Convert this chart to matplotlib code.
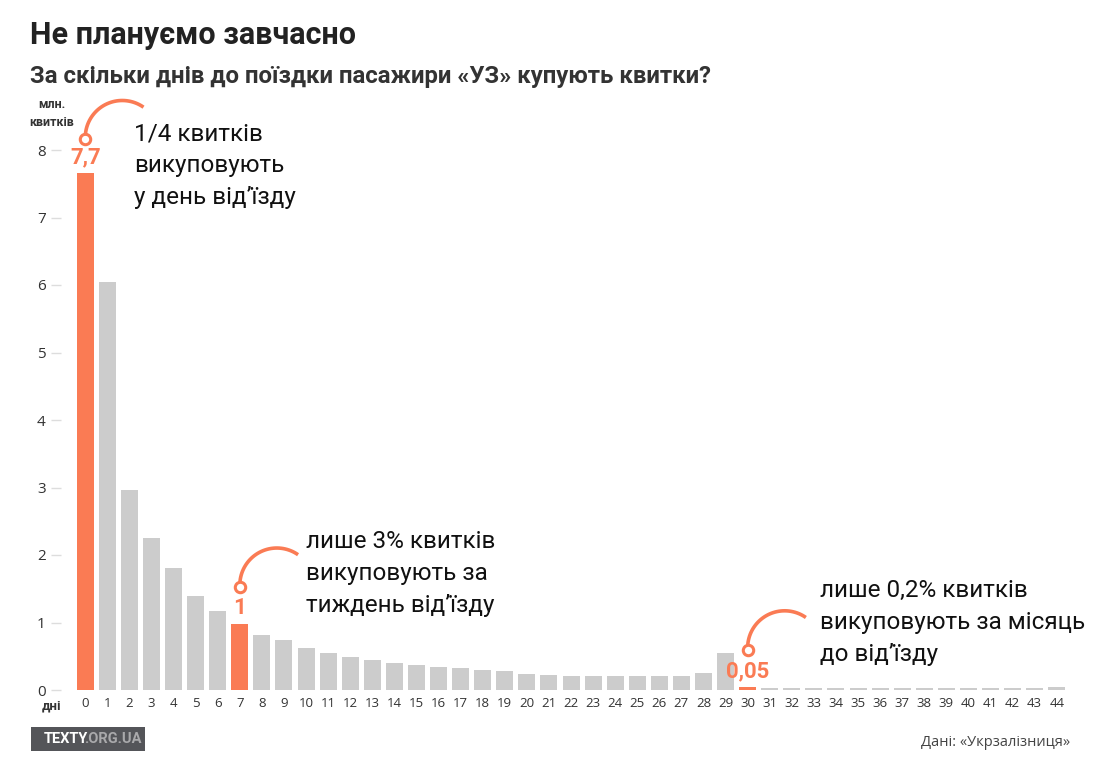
import numpy as np
import matplotlib.pyplot as plt
from matplotlib.lines import Line2D
from matplotlib.patches import Rectangle
from matplotlib.transforms import IdentityTransform

plt.rcParams['font.family'] = ['Roboto', 'DejaVu Sans']

days = list(range(45))
tickets = [7.66, 6.04, 2.96, 2.25, 1.81, 1.39, 1.17, 0.98, 0.82, 0.74,
           0.62, 0.55, 0.49, 0.44, 0.40, 0.37, 0.34, 0.33, 0.30, 0.28,
           0.24, 0.22, 0.21, 0.21, 0.21, 0.21, 0.21, 0.21, 0.25, 0.55,
           0.05, 0.03, 0.03, 0.03, 0.03, 0.03, 0.03, 0.03, 0.03, 0.03,
           0.03, 0.03, 0.03, 0.03, 0.04]
highlight = [0, 7, 30]
value_labels = {0: '7,7', 7: '1', 30: '0,05'}
notes = {
    0: '1/4 квитків\nвикуповують\nу день від\u02bcїзду',
    7: 'лише 3% квитків\nвикуповують за\nтиждень від\u02bcїзду',
    30: 'лише 0,2% квитків\nвикуповують за місяць\nдо від\u02bcїзду',
}
# where each note starts, in pixels right of / above its ring
note_offsets = {0: (49, 17), 7: (66, 57), 30: (72, 71)}
y_ticks = list(range(9))

ORANGE = '#fa7b54'
GREY = '#cccccc'
DARK = '#333333'

W, H = 1100, 767
fig = plt.figure(figsize=(W / 100, H / 100), dpi=100)
# axes placed in pixel terms of the reference
left, right, bottom, top = 61, 1070, 690, 109.5
ax = fig.add_axes([left / W, (H - bottom) / H, (right - left) / W, (bottom - top) / H])

colors = [ORANGE if d in highlight else GREY for d in days]
ax.bar(days, tickets, width=0.77, color=colors)

ax.set_xlim(-1.1, 44.6)
ax.set_ylim(0, 8.6)
ax.set_yticks(y_ticks)
ax.set_yticklabels([str(t) for t in y_ticks], fontsize=11, color=DARK,
                   family=['Open Sans', 'DejaVu Sans'])
ax.set_xticks(days)
ax.set_xticklabels([str(d) for d in days], fontsize=9.5, color=DARK,
                   family=['Open Sans', 'DejaVu Sans'])
ax.tick_params(axis='y', length=7, width=1, color='#dddddd', pad=4)
ax.tick_params(axis='x', length=0, pad=5)
for s in ax.spines.values():
    s.set_visible(False)

# pointer arc: circle piece starting at the ring, in pixel offsets
arc_cx, arc_cy, arc_r = 37, 1.7, 37
ang = np.radians(np.linspace(177, 55, 40))
arc_dx = arc_cx + arc_r * np.cos(ang)
arc_dy = arc_cy + arc_r * np.sin(ang)

for d in highlight:
    v = tickets[d]
    ax.text(d, v + 0.07, value_labels[d], ha='center', va='bottom',
            color=ORANGE, fontsize=16, fontweight='bold')
    ring_y = v + 0.55 if d else v + 0.5
    px, py = ax.transData.transform((d, ring_y))
    fig.add_artist(Line2D(px + arc_dx, py + arc_dy, color=ORANGE, lw=2.6,
                          solid_capstyle='butt', transform=IdentityTransform()))
    ax.plot(d, ring_y, 'o', ms=7.5, mfc='white', mec=ORANGE, mew=2.2, zorder=5)
    ox, oy = note_offsets[d]
    ax.annotate(notes[d], xy=(d, ring_y), xycoords='data',
                xytext=(ox * 0.72, oy * 0.72), textcoords='offset points',
                ha='left', va='top', fontsize=17.5, color='#111111',
                linespacing=1.5)

fig.text(52 / W, 1 - 706 / H, 'дні', ha='center', va='center',
         fontsize=9.5, fontweight='bold', color=DARK)
fig.text(52 / W, 1 - 114 / H, 'млн.\nквитків', ha='center', va='center',
         fontsize=9, fontweight='bold', color=DARK, linespacing=1.5)

fig.text(30 / W, 1 - 35 / H, 'Не плануємо завчасно', ha='left', va='center',
         fontsize=22, fontweight='bold', color='#222222')
fig.text(30 / W, 1 - 76 / H,
         'За скільки днів до поїздки пасажири «УЗ» купують квитки?',
         ha='left', va='center', fontsize=17.3, fontweight='bold', color='#333333')

# footer
fig.add_artist(Rectangle((31 / W, 1 - 751 / H), 114 / W, 24 / H, zorder=-1,
                         transform=fig.transFigure, fc='#545559', ec='none'))
logo = fig.text(44 / W, 1 - 739 / H, 'TEXTY', ha='left', va='center',
                fontsize=10.5, fontweight='bold', color='white')
fig.text(84 / W, 1 - 739 / H, '.ORG.UA', ha='left', va='center',
         fontsize=10.5, fontweight='bold', color='#a9a9ab')
fig.text(1070 / W, 1 - 742 / H, 'Дані: «Укрзалізниця»', ha='right', va='center',
         fontsize=10.5, color='#444444', family=['Open Sans', 'DejaVu Sans'])

fig.savefig('out.png', dpi=100, facecolor='white')
